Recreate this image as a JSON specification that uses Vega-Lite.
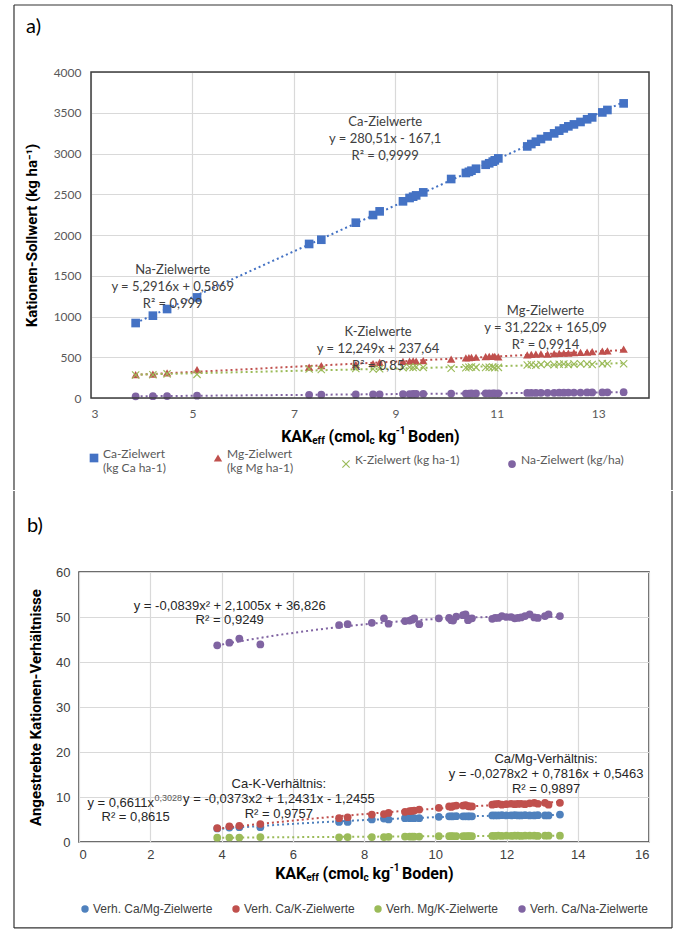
{
  "$schema": "https://vega.github.io/schema/vega-lite/v6.json",
  "background": "white",
  "padding": {"left": 12, "top": 4, "right": 4, "bottom": 1},
  "config": {
    "view": {"stroke": "#3c3c3c", "strokeWidth": 1.5},
    "axis": {"domain": false, "ticks": false, "gridColor": "#d9d9d9", "gridWidth": 1.2},
    "legend": {"orient": "bottom", "direction": "horizontal"}
  },
  "datasets": {
    "zielwerte": [
      {"kak":3.88,"serie":"Ca","wert":920},{"kak":4.22,"serie":"Ca","wert":1010},{"kak":4.5,"serie":"Ca","wert":1092},{"kak":5.09,"serie":"Ca","wert":1234},{"kak":7.3,"serie":"Ca","wert":1890},{"kak":7.54,"serie":"Ca","wert":1942},{"kak":8.22,"serie":"Ca","wert":2151},{"kak":8.56,"serie":"Ca","wert":2245},{"kak":8.69,"serie":"Ca","wert":2290},{"kak":9.15,"serie":"Ca","wert":2413},{"kak":9.28,"serie":"Ca","wert":2454},{"kak":9.35,"serie":"Ca","wert":2470},{"kak":9.41,"serie":"Ca","wert":2486},{"kak":9.55,"serie":"Ca","wert":2523},{"kak":10.1,"serie":"Ca","wert":2687},{"kak":10.39,"serie":"Ca","wert":2761},{"kak":10.45,"serie":"Ca","wert":2775},{"kak":10.5,"serie":"Ca","wert":2789},{"kak":10.59,"serie":"Ca","wert":2813},{"kak":10.78,"serie":"Ca","wert":2862},{"kak":10.85,"serie":"Ca","wert":2880},{"kak":10.92,"serie":"Ca","wert":2900},{"kak":10.96,"serie":"Ca","wert":2916},{"kak":11.03,"serie":"Ca","wert":2940},{"kak":11.6,"serie":"Ca","wert":3087},{"kak":11.68,"serie":"Ca","wert":3116},{"kak":11.77,"serie":"Ca","wert":3145},{"kak":11.87,"serie":"Ca","wert":3178},{"kak":12.0,"serie":"Ca","wert":3210},{"kak":12.13,"serie":"Ca","wert":3247},{"kak":12.23,"serie":"Ca","wert":3280},{"kak":12.32,"serie":"Ca","wert":3308},{"kak":12.41,"serie":"Ca","wert":3333},{"kak":12.52,"serie":"Ca","wert":3357},{"kak":12.65,"serie":"Ca","wert":3387},{"kak":12.78,"serie":"Ca","wert":3420},{"kak":12.88,"serie":"Ca","wert":3443},{"kak":13.08,"serie":"Ca","wert":3504},{"kak":13.18,"serie":"Ca","wert":3534},{"kak":13.5,"serie":"Ca","wert":3615},
      {"kak":3.88,"serie":"Mg","wert":286},{"kak":4.22,"serie":"Mg","wert":294},{"kak":4.5,"serie":"Mg","wert":307},{"kak":5.09,"serie":"Mg","wert":347},{"kak":7.3,"serie":"Mg","wert":380},{"kak":7.54,"serie":"Mg","wert":396},{"kak":8.22,"serie":"Mg","wert":409},{"kak":8.56,"serie":"Mg","wert":421},{"kak":8.69,"serie":"Mg","wert":437},{"kak":9.15,"serie":"Mg","wert":449},{"kak":9.28,"serie":"Mg","wert":451},{"kak":9.35,"serie":"Mg","wert":455},{"kak":9.41,"serie":"Mg","wert":452},{"kak":9.55,"serie":"Mg","wert":458},{"kak":10.1,"serie":"Mg","wert":478},{"kak":10.39,"serie":"Mg","wert":492},{"kak":10.45,"serie":"Mg","wert":495},{"kak":10.5,"serie":"Mg","wert":498},{"kak":10.59,"serie":"Mg","wert":500},{"kak":10.78,"serie":"Mg","wert":508},{"kak":10.85,"serie":"Mg","wert":510},{"kak":10.92,"serie":"Mg","wert":512},{"kak":10.96,"serie":"Mg","wert":510},{"kak":11.03,"serie":"Mg","wert":506},{"kak":11.6,"serie":"Mg","wert":530},{"kak":11.68,"serie":"Mg","wert":535},{"kak":11.77,"serie":"Mg","wert":538},{"kak":11.87,"serie":"Mg","wert":540},{"kak":12.0,"serie":"Mg","wert":538},{"kak":12.13,"serie":"Mg","wert":545},{"kak":12.23,"serie":"Mg","wert":548},{"kak":12.32,"serie":"Mg","wert":550},{"kak":12.41,"serie":"Mg","wert":552},{"kak":12.52,"serie":"Mg","wert":556},{"kak":12.65,"serie":"Mg","wert":560},{"kak":12.78,"serie":"Mg","wert":562},{"kak":12.88,"serie":"Mg","wert":568},{"kak":13.08,"serie":"Mg","wert":575},{"kak":13.18,"serie":"Mg","wert":578},{"kak":13.5,"serie":"Mg","wert":600},
      {"kak":3.88,"serie":"K","wert":282},{"kak":4.22,"serie":"K","wert":285},{"kak":4.5,"serie":"K","wert":296},{"kak":5.09,"serie":"K","wert":290},{"kak":7.3,"serie":"K","wert":356},{"kak":7.54,"serie":"K","wert":350},{"kak":8.22,"serie":"K","wert":362},{"kak":8.56,"serie":"K","wert":356},{"kak":8.69,"serie":"K","wert":358},{"kak":9.15,"serie":"K","wert":372},{"kak":9.28,"serie":"K","wert":378},{"kak":9.35,"serie":"K","wert":375},{"kak":9.41,"serie":"K","wert":380},{"kak":9.55,"serie":"K","wert":376},{"kak":10.1,"serie":"K","wert":366},{"kak":10.39,"serie":"K","wert":372},{"kak":10.45,"serie":"K","wert":378},{"kak":10.5,"serie":"K","wert":380},{"kak":10.59,"serie":"K","wert":376},{"kak":10.78,"serie":"K","wert":374},{"kak":10.85,"serie":"K","wert":378},{"kak":10.92,"serie":"K","wert":380},{"kak":10.96,"serie":"K","wert":372},{"kak":11.03,"serie":"K","wert":376},{"kak":11.6,"serie":"K","wert":405},{"kak":11.68,"serie":"K","wert":410},{"kak":11.77,"serie":"K","wert":402},{"kak":11.87,"serie":"K","wert":412},{"kak":12.0,"serie":"K","wert":415},{"kak":12.13,"serie":"K","wert":408},{"kak":12.23,"serie":"K","wert":414},{"kak":12.32,"serie":"K","wert":418},{"kak":12.41,"serie":"K","wert":410},{"kak":12.52,"serie":"K","wert":416},{"kak":12.65,"serie":"K","wert":420},{"kak":12.78,"serie":"K","wert":418},{"kak":12.88,"serie":"K","wert":412},{"kak":13.08,"serie":"K","wert":422},{"kak":13.18,"serie":"K","wert":420},{"kak":13.5,"serie":"K","wert":421},
      {"kak":3.88,"serie":"Na","wert":21},{"kak":4.22,"serie":"Na","wert":23},{"kak":4.5,"serie":"Na","wert":24},{"kak":5.09,"serie":"Na","wert":28},{"kak":7.3,"serie":"Na","wert":39},{"kak":7.54,"serie":"Na","wert":40},{"kak":8.22,"serie":"Na","wert":44},{"kak":8.56,"serie":"Na","wert":46},{"kak":8.69,"serie":"Na","wert":46},{"kak":9.15,"serie":"Na","wert":49},{"kak":9.28,"serie":"Na","wert":49},{"kak":9.35,"serie":"Na","wert":50},{"kak":9.41,"serie":"Na","wert":50},{"kak":9.55,"serie":"Na","wert":51},{"kak":10.1,"serie":"Na","wert":54},{"kak":10.39,"serie":"Na","wert":55},{"kak":10.45,"serie":"Na","wert":55},{"kak":10.5,"serie":"Na","wert":56},{"kak":10.59,"serie":"Na","wert":56},{"kak":10.78,"serie":"Na","wert":57},{"kak":10.85,"serie":"Na","wert":57},{"kak":10.92,"serie":"Na","wert":58},{"kak":10.96,"serie":"Na","wert":58},{"kak":11.03,"serie":"Na","wert":58},{"kak":11.6,"serie":"Na","wert":62},{"kak":11.68,"serie":"Na","wert":62},{"kak":11.77,"serie":"Na","wert":62},{"kak":11.87,"serie":"Na","wert":63},{"kak":12.0,"serie":"Na","wert":64},{"kak":12.13,"serie":"Na","wert":64},{"kak":12.23,"serie":"Na","wert":65},{"kak":12.32,"serie":"Na","wert":65},{"kak":12.41,"serie":"Na","wert":66},{"kak":12.52,"serie":"Na","wert":66},{"kak":12.65,"serie":"Na","wert":67},{"kak":12.78,"serie":"Na","wert":68},{"kak":12.88,"serie":"Na","wert":68},{"kak":13.08,"serie":"Na","wert":69},{"kak":13.18,"serie":"Na","wert":70},{"kak":13.5,"serie":"Na","wert":72}
    ],
    "verhaeltnisse": [
      {"kak":3.88,"verh":"Verh. Ca/Mg-Zielwerte","wert":3.0},{"kak":4.22,"verh":"Verh. Ca/Mg-Zielwerte","wert":3.2},{"kak":4.5,"verh":"Verh. Ca/Mg-Zielwerte","wert":3.3},{"kak":5.09,"verh":"Verh. Ca/Mg-Zielwerte","wert":3.3},{"kak":7.3,"verh":"Verh. Ca/Mg-Zielwerte","wert":4.45},{"kak":7.54,"verh":"Verh. Ca/Mg-Zielwerte","wert":4.45},{"kak":8.22,"verh":"Verh. Ca/Mg-Zielwerte","wert":5.0},{"kak":8.56,"verh":"Verh. Ca/Mg-Zielwerte","wert":5.2},{"kak":8.69,"verh":"Verh. Ca/Mg-Zielwerte","wert":5.0},{"kak":9.15,"verh":"Verh. Ca/Mg-Zielwerte","wert":5.3},{"kak":9.28,"verh":"Verh. Ca/Mg-Zielwerte","wert":5.3},{"kak":9.35,"verh":"Verh. Ca/Mg-Zielwerte","wert":5.35},{"kak":9.41,"verh":"Verh. Ca/Mg-Zielwerte","wert":5.3},{"kak":9.55,"verh":"Verh. Ca/Mg-Zielwerte","wert":5.3},{"kak":10.1,"verh":"Verh. Ca/Mg-Zielwerte","wert":5.6},{"kak":10.39,"verh":"Verh. Ca/Mg-Zielwerte","wert":5.7},{"kak":10.45,"verh":"Verh. Ca/Mg-Zielwerte","wert":5.7},{"kak":10.5,"verh":"Verh. Ca/Mg-Zielwerte","wert":5.7},{"kak":10.59,"verh":"Verh. Ca/Mg-Zielwerte","wert":5.75},{"kak":10.78,"verh":"Verh. Ca/Mg-Zielwerte","wert":5.7},{"kak":10.85,"verh":"Verh. Ca/Mg-Zielwerte","wert":5.7},{"kak":10.92,"verh":"Verh. Ca/Mg-Zielwerte","wert":5.7},{"kak":10.96,"verh":"Verh. Ca/Mg-Zielwerte","wert":5.7},{"kak":11.03,"verh":"Verh. Ca/Mg-Zielwerte","wert":5.7},{"kak":11.6,"verh":"Verh. Ca/Mg-Zielwerte","wert":5.9},{"kak":11.68,"verh":"Verh. Ca/Mg-Zielwerte","wert":5.9},{"kak":11.77,"verh":"Verh. Ca/Mg-Zielwerte","wert":5.9},{"kak":11.87,"verh":"Verh. Ca/Mg-Zielwerte","wert":5.95},{"kak":12.0,"verh":"Verh. Ca/Mg-Zielwerte","wert":5.9},{"kak":12.13,"verh":"Verh. Ca/Mg-Zielwerte","wert":5.9},{"kak":12.23,"verh":"Verh. Ca/Mg-Zielwerte","wert":5.95},{"kak":12.32,"verh":"Verh. Ca/Mg-Zielwerte","wert":5.9},{"kak":12.41,"verh":"Verh. Ca/Mg-Zielwerte","wert":5.9},{"kak":12.52,"verh":"Verh. Ca/Mg-Zielwerte","wert":5.95},{"kak":12.65,"verh":"Verh. Ca/Mg-Zielwerte","wert":5.9},{"kak":12.78,"verh":"Verh. Ca/Mg-Zielwerte","wert":5.9},{"kak":12.88,"verh":"Verh. Ca/Mg-Zielwerte","wert":5.95},{"kak":13.08,"verh":"Verh. Ca/Mg-Zielwerte","wert":5.9},{"kak":13.18,"verh":"Verh. Ca/Mg-Zielwerte","wert":5.9},{"kak":13.5,"verh":"Verh. Ca/Mg-Zielwerte","wert":6.1},
      {"kak":3.88,"verh":"Verh. Ca/K-Zielwerte","wert":3.1},{"kak":4.22,"verh":"Verh. Ca/K-Zielwerte","wert":3.5},{"kak":4.5,"verh":"Verh. Ca/K-Zielwerte","wert":3.6},{"kak":5.09,"verh":"Verh. Ca/K-Zielwerte","wert":4.0},{"kak":7.3,"verh":"Verh. Ca/K-Zielwerte","wert":5.3},{"kak":7.54,"verh":"Verh. Ca/K-Zielwerte","wert":5.5},{"kak":8.22,"verh":"Verh. Ca/K-Zielwerte","wert":6.1},{"kak":8.56,"verh":"Verh. Ca/K-Zielwerte","wert":6.2},{"kak":8.69,"verh":"Verh. Ca/K-Zielwerte","wert":6.45},{"kak":9.15,"verh":"Verh. Ca/K-Zielwerte","wert":6.7},{"kak":9.28,"verh":"Verh. Ca/K-Zielwerte","wert":6.85},{"kak":9.35,"verh":"Verh. Ca/K-Zielwerte","wert":6.9},{"kak":9.41,"verh":"Verh. Ca/K-Zielwerte","wert":7.0},{"kak":9.55,"verh":"Verh. Ca/K-Zielwerte","wert":7.2},{"kak":10.1,"verh":"Verh. Ca/K-Zielwerte","wert":7.6},{"kak":10.39,"verh":"Verh. Ca/K-Zielwerte","wert":7.9},{"kak":10.45,"verh":"Verh. Ca/K-Zielwerte","wert":7.8},{"kak":10.5,"verh":"Verh. Ca/K-Zielwerte","wert":8.0},{"kak":10.59,"verh":"Verh. Ca/K-Zielwerte","wert":8.1},{"kak":10.78,"verh":"Verh. Ca/K-Zielwerte","wert":8.1},{"kak":10.85,"verh":"Verh. Ca/K-Zielwerte","wert":8.2},{"kak":10.92,"verh":"Verh. Ca/K-Zielwerte","wert":8.0},{"kak":10.96,"verh":"Verh. Ca/K-Zielwerte","wert":7.9},{"kak":11.03,"verh":"Verh. Ca/K-Zielwerte","wert":7.9},{"kak":11.6,"verh":"Verh. Ca/K-Zielwerte","wert":8.3},{"kak":11.68,"verh":"Verh. Ca/K-Zielwerte","wert":8.4},{"kak":11.77,"verh":"Verh. Ca/K-Zielwerte","wert":8.5},{"kak":11.87,"verh":"Verh. Ca/K-Zielwerte","wert":8.3},{"kak":12.0,"verh":"Verh. Ca/K-Zielwerte","wert":8.4},{"kak":12.13,"verh":"Verh. Ca/K-Zielwerte","wert":8.5},{"kak":12.23,"verh":"Verh. Ca/K-Zielwerte","wert":8.4},{"kak":12.32,"verh":"Verh. Ca/K-Zielwerte","wert":8.45},{"kak":12.41,"verh":"Verh. Ca/K-Zielwerte","wert":8.5},{"kak":12.52,"verh":"Verh. Ca/K-Zielwerte","wert":8.4},{"kak":12.65,"verh":"Verh. Ca/K-Zielwerte","wert":8.6},{"kak":12.78,"verh":"Verh. Ca/K-Zielwerte","wert":8.7},{"kak":12.88,"verh":"Verh. Ca/K-Zielwerte","wert":8.5},{"kak":13.08,"verh":"Verh. Ca/K-Zielwerte","wert":8.7},{"kak":13.18,"verh":"Verh. Ca/K-Zielwerte","wert":8.3},{"kak":13.5,"verh":"Verh. Ca/K-Zielwerte","wert":8.7},
      {"kak":3.88,"verh":"Verh. Mg/K-Zielwerte","wert":0.95},{"kak":4.22,"verh":"Verh. Mg/K-Zielwerte","wert":1.0},{"kak":4.5,"verh":"Verh. Mg/K-Zielwerte","wert":1.0},{"kak":5.09,"verh":"Verh. Mg/K-Zielwerte","wert":1.1},{"kak":7.3,"verh":"Verh. Mg/K-Zielwerte","wert":1.05},{"kak":7.54,"verh":"Verh. Mg/K-Zielwerte","wert":1.1},{"kak":8.22,"verh":"Verh. Mg/K-Zielwerte","wert":1.1},{"kak":8.56,"verh":"Verh. Mg/K-Zielwerte","wert":1.1},{"kak":8.69,"verh":"Verh. Mg/K-Zielwerte","wert":1.15},{"kak":9.15,"verh":"Verh. Mg/K-Zielwerte","wert":1.2},{"kak":9.28,"verh":"Verh. Mg/K-Zielwerte","wert":1.2},{"kak":9.35,"verh":"Verh. Mg/K-Zielwerte","wert":1.2},{"kak":9.41,"verh":"Verh. Mg/K-Zielwerte","wert":1.2},{"kak":9.55,"verh":"Verh. Mg/K-Zielwerte","wert":1.2},{"kak":10.1,"verh":"Verh. Mg/K-Zielwerte","wert":1.3},{"kak":10.39,"verh":"Verh. Mg/K-Zielwerte","wert":1.3},{"kak":10.45,"verh":"Verh. Mg/K-Zielwerte","wert":1.3},{"kak":10.5,"verh":"Verh. Mg/K-Zielwerte","wert":1.3},{"kak":10.59,"verh":"Verh. Mg/K-Zielwerte","wert":1.3},{"kak":10.78,"verh":"Verh. Mg/K-Zielwerte","wert":1.3},{"kak":10.85,"verh":"Verh. Mg/K-Zielwerte","wert":1.3},{"kak":10.92,"verh":"Verh. Mg/K-Zielwerte","wert":1.3},{"kak":10.96,"verh":"Verh. Mg/K-Zielwerte","wert":1.3},{"kak":11.03,"verh":"Verh. Mg/K-Zielwerte","wert":1.3},{"kak":11.6,"verh":"Verh. Mg/K-Zielwerte","wert":1.35},{"kak":11.68,"verh":"Verh. Mg/K-Zielwerte","wert":1.35},{"kak":11.77,"verh":"Verh. Mg/K-Zielwerte","wert":1.4},{"kak":11.87,"verh":"Verh. Mg/K-Zielwerte","wert":1.35},{"kak":12.0,"verh":"Verh. Mg/K-Zielwerte","wert":1.4},{"kak":12.13,"verh":"Verh. Mg/K-Zielwerte","wert":1.35},{"kak":12.23,"verh":"Verh. Mg/K-Zielwerte","wert":1.4},{"kak":12.32,"verh":"Verh. Mg/K-Zielwerte","wert":1.4},{"kak":12.41,"verh":"Verh. Mg/K-Zielwerte","wert":1.35},{"kak":12.52,"verh":"Verh. Mg/K-Zielwerte","wert":1.4},{"kak":12.65,"verh":"Verh. Mg/K-Zielwerte","wert":1.4},{"kak":12.78,"verh":"Verh. Mg/K-Zielwerte","wert":1.4},{"kak":12.88,"verh":"Verh. Mg/K-Zielwerte","wert":1.35},{"kak":13.08,"verh":"Verh. Mg/K-Zielwerte","wert":1.4},{"kak":13.18,"verh":"Verh. Mg/K-Zielwerte","wert":1.4},{"kak":13.5,"verh":"Verh. Mg/K-Zielwerte","wert":1.4},
      {"kak":3.88,"verh":"Verh. Ca/Na-Zielwerte","wert":43.7},{"kak":4.22,"verh":"Verh. Ca/Na-Zielwerte","wert":44.3},{"kak":4.5,"verh":"Verh. Ca/Na-Zielwerte","wert":45.2},{"kak":5.09,"verh":"Verh. Ca/Na-Zielwerte","wert":43.9},{"kak":7.3,"verh":"Verh. Ca/Na-Zielwerte","wert":48.2},{"kak":7.54,"verh":"Verh. Ca/Na-Zielwerte","wert":48.4},{"kak":8.22,"verh":"Verh. Ca/Na-Zielwerte","wert":48.7},{"kak":8.56,"verh":"Verh. Ca/Na-Zielwerte","wert":49.7},{"kak":8.69,"verh":"Verh. Ca/Na-Zielwerte","wert":48.5},{"kak":9.15,"verh":"Verh. Ca/Na-Zielwerte","wert":49.1},{"kak":9.28,"verh":"Verh. Ca/Na-Zielwerte","wert":49.2},{"kak":9.35,"verh":"Verh. Ca/Na-Zielwerte","wert":49.4},{"kak":9.41,"verh":"Verh. Ca/Na-Zielwerte","wert":49.7},{"kak":9.55,"verh":"Verh. Ca/Na-Zielwerte","wert":48.4},{"kak":10.1,"verh":"Verh. Ca/Na-Zielwerte","wert":49.7},{"kak":10.39,"verh":"Verh. Ca/Na-Zielwerte","wert":49.8},{"kak":10.45,"verh":"Verh. Ca/Na-Zielwerte","wert":49.3},{"kak":10.5,"verh":"Verh. Ca/Na-Zielwerte","wert":49.2},{"kak":10.59,"verh":"Verh. Ca/Na-Zielwerte","wert":50.1},{"kak":10.78,"verh":"Verh. Ca/Na-Zielwerte","wert":50.4},{"kak":10.85,"verh":"Verh. Ca/Na-Zielwerte","wert":50.6},{"kak":10.92,"verh":"Verh. Ca/Na-Zielwerte","wert":49.3},{"kak":10.96,"verh":"Verh. Ca/Na-Zielwerte","wert":49.6},{"kak":11.03,"verh":"Verh. Ca/Na-Zielwerte","wert":49.7},{"kak":11.6,"verh":"Verh. Ca/Na-Zielwerte","wert":49.6},{"kak":11.68,"verh":"Verh. Ca/Na-Zielwerte","wert":49.8},{"kak":11.77,"verh":"Verh. Ca/Na-Zielwerte","wert":49.8},{"kak":11.87,"verh":"Verh. Ca/Na-Zielwerte","wert":50.2},{"kak":12.0,"verh":"Verh. Ca/Na-Zielwerte","wert":50.0},{"kak":12.13,"verh":"Verh. Ca/Na-Zielwerte","wert":50.0},{"kak":12.23,"verh":"Verh. Ca/Na-Zielwerte","wert":49.7},{"kak":12.32,"verh":"Verh. Ca/Na-Zielwerte","wert":49.8},{"kak":12.41,"verh":"Verh. Ca/Na-Zielwerte","wert":49.9},{"kak":12.52,"verh":"Verh. Ca/Na-Zielwerte","wert":50.2},{"kak":12.65,"verh":"Verh. Ca/Na-Zielwerte","wert":50.6},{"kak":12.78,"verh":"Verh. Ca/Na-Zielwerte","wert":49.9},{"kak":12.88,"verh":"Verh. Ca/Na-Zielwerte","wert":49.8},{"kak":13.08,"verh":"Verh. Ca/Na-Zielwerte","wert":50.2},{"kak":13.18,"verh":"Verh. Ca/Na-Zielwerte","wert":50.6},{"kak":13.5,"verh":"Verh. Ca/Na-Zielwerte","wert":50.2}
    ]
  },
  "columns": 1,
  "spacing": -2,
  "resolve": {
    "scale": {"color": "independent", "shape": "independent", "size": "independent"},
    "legend": {"color": "independent", "shape": "independent", "size": "independent"}
  },
  "concat": [
    {
      "width": 570,
      "height": 326,
      "view": {"stroke": null},
      "data": {"name": "zielwerte"},
      "layer": [
        {
          "transform": [{"filter": "datum.serie === 'Ca'"}, {"regression": "wert", "on": "kak", "method": "linear"}],
          "mark": {"type": "line", "strokeDash": [2, 3], "strokeWidth": 2, "color": "#4472C4"},
          "encoding": {
            "x": {"field": "kak", "type": "quantitative", "scale": {"domain": [3, 14], "range": [12, 570], "nice": false},
              "axis": {"values": [3, 5, 7, 9, 11, 13], "labelFont": "Lato", "labelFontSize": 12, "labelColor": "#595959", "labelPadding": 10, "title": null}},
            "y": {"field": "wert", "type": "quantitative", "scale": {"domain": [0, 4000], "nice": false},
              "axis": {"values": [0, 500, 1000, 1500, 2000, 2500, 3000, 3500, 4000], "format": "d", "offset": -12, "labelFont": "Lato", "labelFontSize": 12, "labelColor": "#595959", "labelPadding": 10,
                "title": "Kationen-Sollwert (kg ha⁻¹)", "titleFont": "Roboto", "titleFontSize": 15, "titleFontWeight": "bold", "titlePadding": 14}}
          }
        },
        {
          "transform": [{"filter": "datum.serie === 'Mg'"}, {"regression": "wert", "on": "kak", "method": "linear"}],
          "mark": {"type": "line", "strokeDash": [2, 3], "strokeWidth": 2, "color": "#C0504D"},
          "encoding": {"x": {"field": "kak", "type": "quantitative"}, "y": {"field": "wert", "type": "quantitative"}}
        },
        {
          "transform": [{"filter": "datum.serie === 'K'"}, {"regression": "wert", "on": "kak", "method": "linear"}],
          "mark": {"type": "line", "strokeDash": [2, 3], "strokeWidth": 2, "color": "#9BBB59"},
          "encoding": {"x": {"field": "kak", "type": "quantitative"}, "y": {"field": "wert", "type": "quantitative"}}
        },
        {
          "transform": [{"filter": "datum.serie === 'Na'"}, {"regression": "wert", "on": "kak", "method": "linear"}],
          "mark": {"type": "line", "strokeDash": [2, 3], "strokeWidth": 2, "color": "#8064A2"},
          "encoding": {"x": {"field": "kak", "type": "quantitative"}, "y": {"field": "wert", "type": "quantitative"}}
        },
        {
          "mark": {"type": "point", "filled": true, "opacity": 1},
          "encoding": {
            "x": {"field": "kak", "type": "quantitative"},
            "y": {"field": "wert", "type": "quantitative"},
            "color": {"field": "serie", "type": "nominal", "title": null, "scale": {"domain": ["Ca", "Mg", "K", "Na"], "range": ["#4472C4", "#C0504D", "#9BBB59", "#8064A2"]},
              "legend": {"labelFont": "Lato", "labelFontSize": 12, "labelColor": "#595959", "columnPadding": 46, "labelOffset": 3, "padding": 9, "offset": 24, "labelBaseline": "alphabetic",
                "labelExpr": "datum.label === 'Ca' ? ['Ca-Zielwert', '(kg Ca ha-1)'] : datum.label === 'Mg' ? ['Mg-Zielwert', '(kg Mg ha-1)'] : datum.label === 'K' ? 'K-Zielwert (kg ha-1)' : 'Na-Zielwert (kg/ha)'"}},
            "shape": {"field": "serie", "type": "nominal", "title": null, "scale": {"domain": ["Ca", "Mg", "K", "Na"], "range": ["square", "triangle-up", "M-1,-0.8L-0.8,-1L0,-0.2L0.8,-1L1,-0.8L0.2,0L1,0.8L0.8,1L0,0.2L-0.8,1L-1,0.8L-0.2,0Z", "circle"]}},
            "size": {"field": "serie", "type": "nominal", "title": null, "scale": {"domain": ["Ca", "Mg", "K", "Na"], "range": [75, 60, 55, 60]}}
          }
        },
        {
          "data": {"values": [{}]},
          "layer": [
            {"mark": {"type": "rect", "filled": false, "color": "#3c3c3c", "strokeWidth": 1.5},
             "encoding": {"x": {"datum": 3, "type": "quantitative"}, "x2": {"datum": 14}, "y": {"datum": 0, "type": "quantitative"}, "y2": {"datum": 4000}}},
            {"mark": {"type": "rule", "color": "#333333", "strokeWidth": 1.2},
             "encoding": {"x": {"datum": 1.482, "type": "quantitative"}, "x2": {"datum": 14.453}, "y": {"datum": 4822, "type": "quantitative"}}},
            {"mark": {"type": "rule", "color": "#333333", "strokeWidth": 1.2},
             "encoding": {"x": {"datum": 1.482, "type": "quantitative"}, "y": {"datum": 4822, "type": "quantitative"}, "y2": {"datum": -1129}}},
            {"mark": {"type": "rule", "color": "#333333", "strokeWidth": 1.2},
             "encoding": {"x": {"datum": 14.453, "type": "quantitative"}, "y": {"datum": 4822, "type": "quantitative"}, "y2": {"datum": -1129}}},
            {"mark": {"type": "text", "text": "a)", "font": "Lato", "fontSize": 20, "color": "#000000", "align": "left", "baseline": "middle"},
             "encoding": {"x": {"datum": 1.72, "type": "quantitative"}, "y": {"datum": 4552, "type": "quantitative"}}},
            {"mark": {"type": "text", "text": ["Ca-Zielwerte", "y = 280,51x - 167,1", "R² = 0,9999"], "font": "Lato", "fontSize": 13, "lineHeight": 17, "color": "#404040", "align": "center", "baseline": "middle"},
             "encoding": {"x": {"datum": 8.8, "type": "quantitative"}, "y": {"datum": 3390, "type": "quantitative"}}},
            {"mark": {"type": "text", "text": ["Na-Zielwerte", "y = 5,2916x + 0,5869", "R² = 0,999"], "font": "Lato", "fontSize": 13, "lineHeight": 17, "color": "#404040", "align": "center", "baseline": "middle"},
             "encoding": {"x": {"datum": 4.61, "type": "quantitative"}, "y": {"datum": 1574, "type": "quantitative"}}},
            {"mark": {"type": "text", "text": ["K-Zielwerte", "y = 12,249x + 237,64", "R² = 0,85"], "font": "Lato", "fontSize": 13, "lineHeight": 17, "color": "#404040", "align": "center", "baseline": "middle"},
             "encoding": {"x": {"datum": 8.66, "type": "quantitative"}, "y": {"datum": 815, "type": "quantitative"}}},
            {"mark": {"type": "text", "text": ["Mg-Zielwerte", "y = 31,222x + 165,09", "R² = 0,9914"], "font": "Lato", "fontSize": 13, "lineHeight": 17, "color": "#404040", "align": "center", "baseline": "middle"},
             "encoding": {"x": {"datum": 11.96, "type": "quantitative"}, "y": {"datum": 1071, "type": "quantitative"}}},
            {"mark": {"type": "text", "text": "KAK", "font": "Roboto", "fontSize": 16, "fontWeight": "bold", "align": "left", "baseline": "middle", "dx": -88.8},
             "encoding": {"x": {"datum": 8.5, "type": "quantitative"}, "y": {"datum": -475, "type": "quantitative"}}},
            {"mark": {"type": "text", "text": "eff", "font": "Roboto", "fontSize": 10, "fontWeight": "bold", "align": "left", "baseline": "middle", "dx": -57.8, "dy": 4},
             "encoding": {"x": {"datum": 8.5, "type": "quantitative"}, "y": {"datum": -475, "type": "quantitative"}}},
            {"mark": {"type": "text", "text": "(cmol", "font": "Roboto", "fontSize": 16, "fontWeight": "bold", "align": "left", "baseline": "middle", "dx": -41.4},
             "encoding": {"x": {"datum": 8.5, "type": "quantitative"}, "y": {"datum": -475, "type": "quantitative"}}},
            {"mark": {"type": "text", "text": "c", "font": "Roboto", "fontSize": 10, "fontWeight": "bold", "align": "left", "baseline": "middle", "dx": -0.6, "dy": 4},
             "encoding": {"x": {"datum": 8.5, "type": "quantitative"}, "y": {"datum": -475, "type": "quantitative"}}},
            {"mark": {"type": "text", "text": "kg", "font": "Roboto", "fontSize": 16, "fontWeight": "bold", "align": "left", "baseline": "middle", "dx": 8.6},
             "encoding": {"x": {"datum": 8.5, "type": "quantitative"}, "y": {"datum": -475, "type": "quantitative"}}},
            {"mark": {"type": "text", "text": "-1", "font": "Roboto", "fontSize": 10, "fontWeight": "bold", "align": "left", "baseline": "middle", "dx": 25.7, "dy": -6},
             "encoding": {"x": {"datum": 8.5, "type": "quantitative"}, "y": {"datum": -475, "type": "quantitative"}}},
            {"mark": {"type": "text", "text": "Boden)", "font": "Roboto", "fontSize": 16, "fontWeight": "bold", "align": "left", "baseline": "middle", "dx": 38.1},
             "encoding": {"x": {"datum": 8.5, "type": "quantitative"}, "y": {"datum": -475, "type": "quantitative"}}}
          ]
        }
      ]
    },
    {
      "width": 570,
      "height": 270,
      "data": {"name": "verhaeltnisse"},
      "layer": [
        {
          "transform": [{"filter": "datum.verh === 'Verh. Ca/Mg-Zielwerte'"}, {"regression": "wert", "on": "kak", "method": "poly", "order": 2}],
          "mark": {"type": "line", "strokeDash": [2, 3], "strokeWidth": 2, "color": "#4F81BD"},
          "encoding": {
            "x": {"field": "kak", "type": "quantitative", "scale": {"domain": [0, 16], "nice": false},
              "axis": {"values": [0, 2, 4, 6, 8, 10, 12, 14, 16], "labelFont": "Liberation Sans", "labelFontSize": 13, "labelColor": "#404040", "labelPadding": 6, "title": null}},
            "y": {"field": "wert", "type": "quantitative", "scale": {"domain": [0, 60], "nice": false},
              "axis": {"values": [0, 10, 20, 30, 40, 50, 60], "labelFont": "Liberation Sans", "labelFontSize": 13, "labelColor": "#404040", "labelPadding": 9,
                "title": "Angestrebte Kationen-Verhältnisse", "titleFont": "Roboto", "titleFontSize": 15, "titleFontWeight": "bold", "titlePadding": 12}}
          }
        },
        {
          "transform": [{"filter": "datum.verh === 'Verh. Ca/K-Zielwerte'"}, {"regression": "wert", "on": "kak", "method": "poly", "order": 2}],
          "mark": {"type": "line", "strokeDash": [2, 3], "strokeWidth": 2, "color": "#C0504D"},
          "encoding": {"x": {"field": "kak", "type": "quantitative"}, "y": {"field": "wert", "type": "quantitative"}}
        },
        {
          "transform": [{"filter": "datum.verh === 'Verh. Mg/K-Zielwerte'"}, {"regression": "wert", "on": "kak", "method": "pow"}],
          "mark": {"type": "line", "strokeDash": [2, 3], "strokeWidth": 2, "color": "#9BBB59"},
          "encoding": {"x": {"field": "kak", "type": "quantitative"}, "y": {"field": "wert", "type": "quantitative"}}
        },
        {
          "transform": [{"filter": "datum.verh === 'Verh. Ca/Na-Zielwerte'"}, {"regression": "wert", "on": "kak", "method": "poly", "order": 2}],
          "mark": {"type": "line", "strokeDash": [2, 3], "strokeWidth": 2, "color": "#8064A2"},
          "encoding": {"x": {"field": "kak", "type": "quantitative"}, "y": {"field": "wert", "type": "quantitative"}}
        },
        {
          "mark": {"type": "point", "filled": true, "opacity": 1, "shape": "circle", "size": 60},
          "encoding": {
            "x": {"field": "kak", "type": "quantitative"},
            "y": {"field": "wert", "type": "quantitative"},
            "color": {"field": "verh", "type": "nominal", "title": null, "scale": {"domain": ["Verh. Ca/Mg-Zielwerte", "Verh. Ca/K-Zielwerte", "Verh. Mg/K-Zielwerte", "Verh. Ca/Na-Zielwerte"], "range": ["#4F81BD", "#C0504D", "#9BBB59", "#8064A2"]},
              "legend": {"labelFont": "Liberation Sans", "labelFontSize": 12, "labelColor": "#404040", "columnPadding": 17, "symbolSize": 55, "labelOffset": 2, "offset": 42}}
          }
        },
        {
          "data": {"values": [{}]},
          "layer": [
            {"mark": {"type": "rule", "color": "#333333", "strokeWidth": 1.2},
             "encoding": {"x": {"datum": -1.8246, "type": "quantitative"}, "y": {"datum": 78, "type": "quantitative"}, "y2": {"datum": -19.1}}},
            {"mark": {"type": "rule", "color": "#333333", "strokeWidth": 1.2},
             "encoding": {"x": {"datum": 16.646, "type": "quantitative"}, "y": {"datum": 78, "type": "quantitative"}, "y2": {"datum": -19.1}}},
            {"mark": {"type": "rule", "color": "#333333", "strokeWidth": 1.2},
             "encoding": {"x": {"datum": -1.8246, "type": "quantitative"}, "x2": {"datum": 16.646}, "y": {"datum": -19.1, "type": "quantitative"}}},
            {"mark": {"type": "text", "text": "b)", "font": "Lato", "fontSize": 20, "color": "#000000", "align": "left", "baseline": "middle"},
             "encoding": {"x": {"datum": -1.46, "type": "quantitative"}, "y": {"datum": 70.2, "type": "quantitative"}}},
            {"mark": {"type": "text", "text": ["y = -0,0839x² + 2,1005x + 36,826", "R² = 0,9249"], "font": "Liberation Sans", "fontSize": 13, "lineHeight": 14, "color": "#262626", "align": "center", "baseline": "middle"},
             "encoding": {"x": {"datum": 4.23, "type": "quantitative"}, "y": {"datum": 52.5, "type": "quantitative"}}},
            {"mark": {"type": "text", "text": ["Ca-K-Verhältnis:", "y = -0,0373x2 + 1,2431x - 1,2455", "R² = 0,9757"], "font": "Liberation Sans", "fontSize": 13, "lineHeight": 15, "color": "#262626", "align": "center", "baseline": "middle"},
             "encoding": {"x": {"datum": 5.61, "type": "quantitative"}, "y": {"datum": 12.9, "type": "quantitative"}}},
            {"mark": {"type": "text", "text": "y = 0,6611x", "font": "Liberation Sans", "fontSize": 13, "color": "#262626", "align": "left", "baseline": "middle"},
             "encoding": {"x": {"datum": 0.236, "type": "quantitative"}, "y": {"datum": 8.68, "type": "quantitative"}}},
            {"mark": {"type": "text", "text": "0,3028", "font": "Liberation Sans", "fontSize": 9, "color": "#595959", "align": "left", "baseline": "middle"},
             "encoding": {"x": {"datum": 2.12, "type": "quantitative"}, "y": {"datum": 9.7, "type": "quantitative"}}},
            {"mark": {"type": "text", "text": "R² = 0,8615", "font": "Liberation Sans", "fontSize": 13, "color": "#262626", "align": "center", "baseline": "middle"},
             "encoding": {"x": {"datum": 1.59, "type": "quantitative"}, "y": {"datum": 5.5, "type": "quantitative"}}},
            {"mark": {"type": "text", "text": ["Ca/Mg-Verhältnis:", "y = -0,0278x2 + 0,7816x + 0,5463", "R² = 0,9897"], "font": "Liberation Sans", "fontSize": 13, "lineHeight": 15, "color": "#262626", "align": "center", "baseline": "middle"},
             "encoding": {"x": {"datum": 13.11, "type": "quantitative"}, "y": {"datum": 18.46, "type": "quantitative"}}},
            {"mark": {"type": "text", "text": "KAK", "font": "Roboto", "fontSize": 16, "fontWeight": "bold", "align": "left", "baseline": "middle", "dx": -88.8},
             "encoding": {"x": {"datum": 8.0, "type": "quantitative"}, "y": {"datum": -7.2, "type": "quantitative"}}},
            {"mark": {"type": "text", "text": "eff", "font": "Roboto", "fontSize": 10, "fontWeight": "bold", "align": "left", "baseline": "middle", "dx": -57.8, "dy": 4},
             "encoding": {"x": {"datum": 8.0, "type": "quantitative"}, "y": {"datum": -7.2, "type": "quantitative"}}},
            {"mark": {"type": "text", "text": "(cmol", "font": "Roboto", "fontSize": 16, "fontWeight": "bold", "align": "left", "baseline": "middle", "dx": -41.4},
             "encoding": {"x": {"datum": 8.0, "type": "quantitative"}, "y": {"datum": -7.2, "type": "quantitative"}}},
            {"mark": {"type": "text", "text": "c", "font": "Roboto", "fontSize": 10, "fontWeight": "bold", "align": "left", "baseline": "middle", "dx": -0.6, "dy": 4},
             "encoding": {"x": {"datum": 8.0, "type": "quantitative"}, "y": {"datum": -7.2, "type": "quantitative"}}},
            {"mark": {"type": "text", "text": "kg", "font": "Roboto", "fontSize": 16, "fontWeight": "bold", "align": "left", "baseline": "middle", "dx": 8.6},
             "encoding": {"x": {"datum": 8.0, "type": "quantitative"}, "y": {"datum": -7.2, "type": "quantitative"}}},
            {"mark": {"type": "text", "text": "-1", "font": "Roboto", "fontSize": 10, "fontWeight": "bold", "align": "left", "baseline": "middle", "dx": 25.7, "dy": -6},
             "encoding": {"x": {"datum": 8.0, "type": "quantitative"}, "y": {"datum": -7.2, "type": "quantitative"}}},
            {"mark": {"type": "text", "text": "Boden)", "font": "Roboto", "fontSize": 16, "fontWeight": "bold", "align": "left", "baseline": "middle", "dx": 38.1},
             "encoding": {"x": {"datum": 8.0, "type": "quantitative"}, "y": {"datum": -7.2, "type": "quantitative"}}}
          ]
        }
      ]
    }
  ]
}
